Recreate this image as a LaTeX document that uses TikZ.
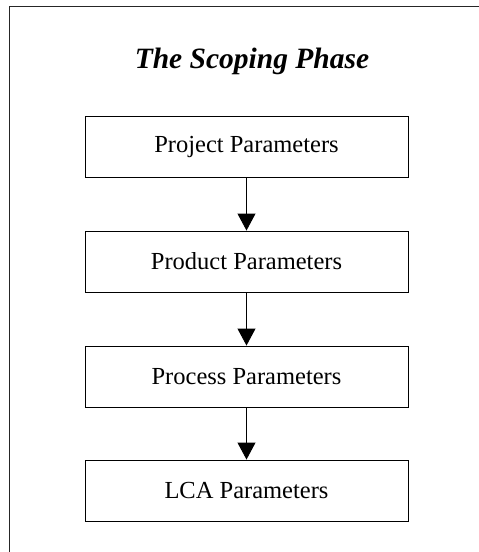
\documentclass[tikz,border=0pt]{standalone}
\usepackage{fontspec}
\setmainfont{Liberation Serif}
\usepackage{tikz}
\usetikzlibrary{arrows.meta}

\tikzset{
  frame/.style={line width=1pt,black!85},
  parbox/.style={draw,line width=0.9pt,minimum width=323pt,minimum height=61pt,inner sep=0pt,
    font=\fontsize{24.5}{29}\selectfont},
  phasetitle/.style={font=\fontsize{29.5}{35}\selectfont\bfseries\itshape,anchor=base},
  link/.style={-{Triangle[length=17pt,width=18pt]},line width=0.9pt}
}

\begin{document}
\begin{tikzpicture}[x=1pt,y=-1pt]
      \useasboundingbox (0,0) rectangle (479,552);
      % only the top and left edges of the frame show
      \draw[frame] (479,6) -- (9,6) -- (9,552);
      \node[phasetitle] (title) at (252,68) {The Scoping Phase};
      \foreach \i/\y/\lab in {1/146.5/Project,2/261.5/Product,3/376.5/Process,4/490.5/LCA}{
        \node[parbox] (par\i) at (246.5,\y) {\lab{} Parameters};
      }
      \foreach \i/\j in {1/2,2/3,3/4}{
        \draw[link] (par\i) -- (par\j);
      }
    \end{tikzpicture}
\end{document}
